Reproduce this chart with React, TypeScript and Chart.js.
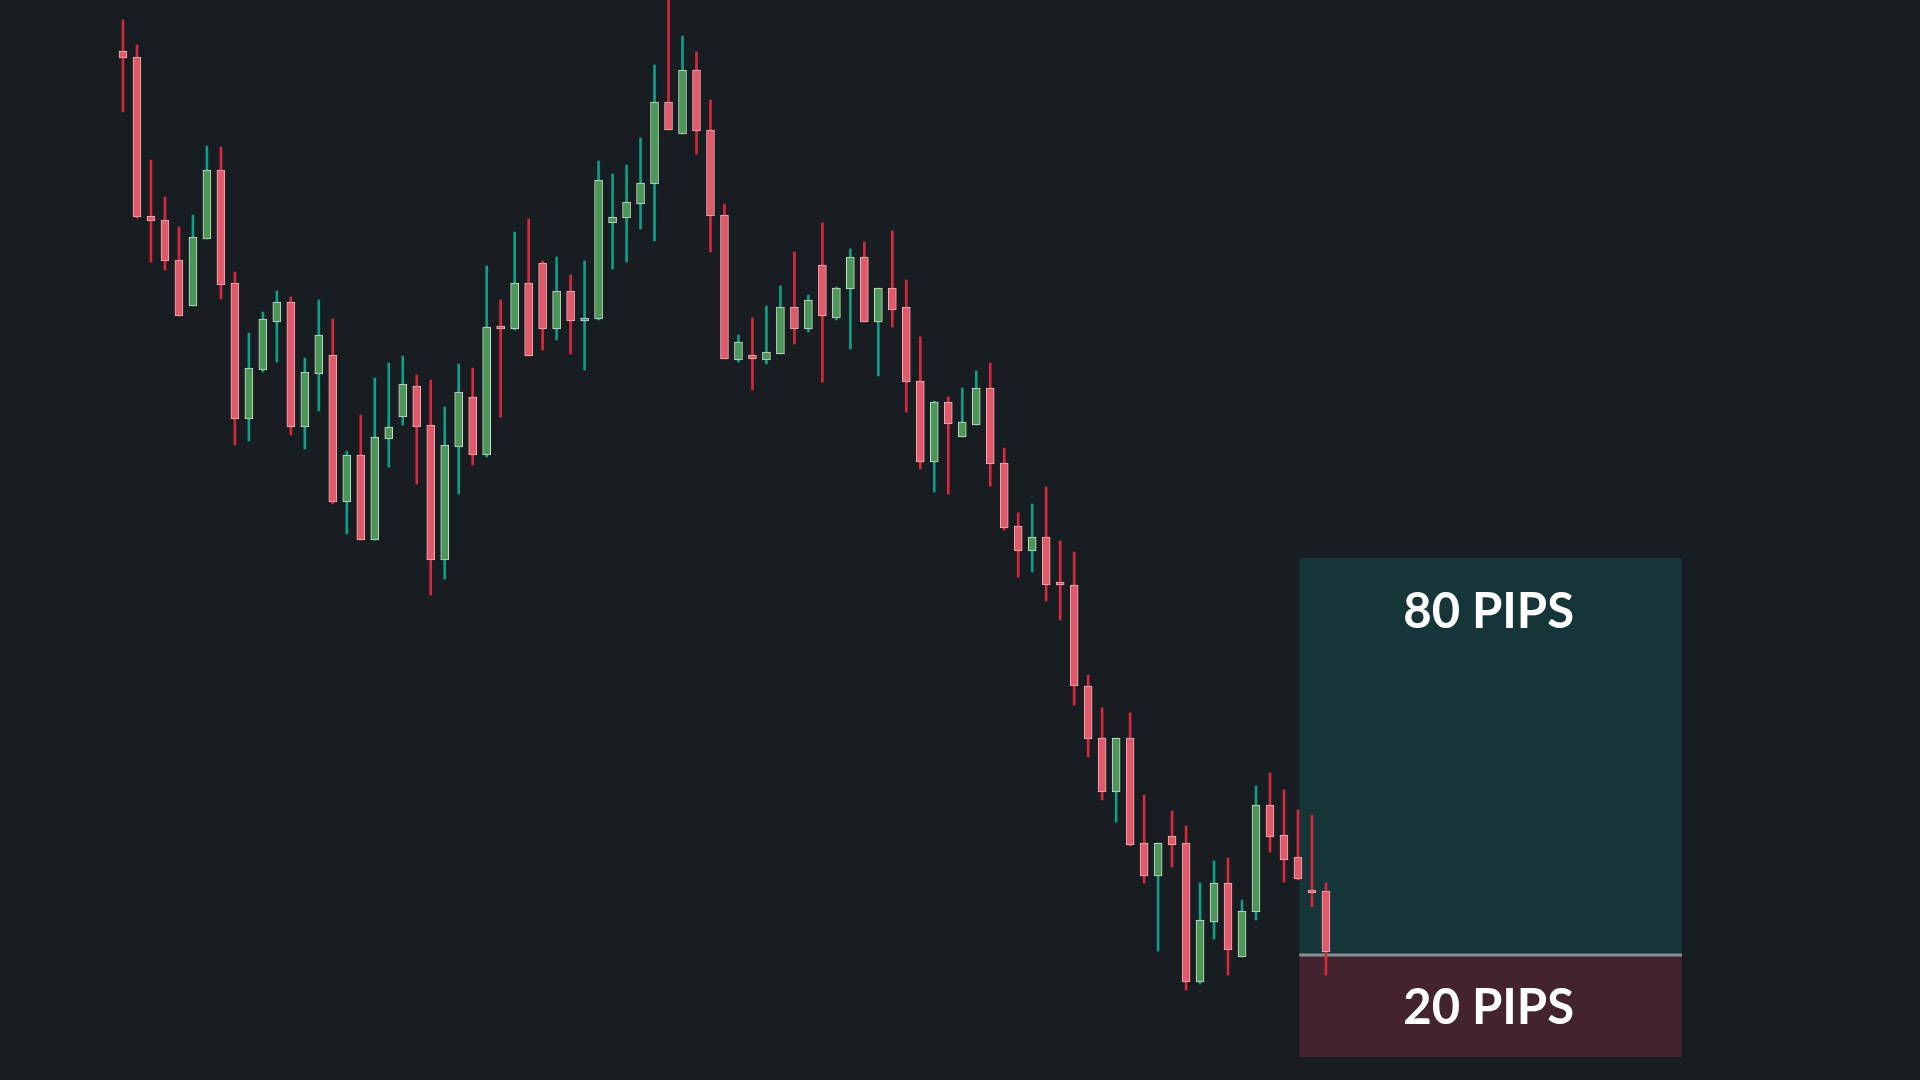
import React, { useEffect, useRef } from "react";
import { Chart, registerables } from "chart.js";

Chart.register(...registerables);

// OHLC prices, one entry per candle (left to right)
const OPENS = [
  1.09898, 1.09886, 1.09568, 1.0956, 1.0948, 1.09388, 1.09522, 1.0966, 1.09434, 1.09162,
  1.0926, 1.09356, 1.09396, 1.09146, 1.09252, 1.0929, 1.08996, 1.0909, 1.0892, 1.09122,
  1.09166, 1.09228, 1.0915, 1.0888, 1.09106, 1.09206, 1.0909, 1.09346, 1.09342, 1.09434,
  1.09474, 1.09342, 1.09418, 1.09358, 1.09362, 1.09554, 1.09564, 1.09592, 1.09632, 1.09796,
  1.09732, 1.0986, 1.0974, 1.0957, 1.0928, 1.0929, 1.0928, 1.09292, 1.09386, 1.09342,
  1.0947, 1.09364, 1.09422, 1.09486, 1.09356, 1.09424, 1.09386, 1.09238, 1.09076, 1.09196,
  1.09126, 1.0915, 1.09224, 1.09074, 1.08948, 1.08898, 1.08926, 1.08834, 1.0883, 1.08628,
  1.08524, 1.08416, 1.08524, 1.08314, 1.08248, 1.08328, 1.08314, 1.08036, 1.08156, 1.08234,
  1.08086, 1.08176, 1.0839, 1.0833, 1.08286, 1.08218, 1.08218,
];
const HIGHS = [
  1.0996, 1.0991, 1.0968, 1.09606, 1.09546, 1.0957, 1.09708, 1.09706, 1.09456, 1.09334,
  1.09376, 1.09418, 1.09406, 1.09284, 1.094, 1.09362, 1.09098, 1.0917, 1.09244, 1.09274,
  1.09288, 1.0925, 1.0924, 1.09186, 1.09272, 1.09264, 1.09468, 1.094, 1.09536, 1.09562,
  1.09478, 1.09486, 1.0945, 1.09478, 1.09678, 1.09652, 1.0967, 1.09724, 1.0987, 1.1002,
  1.09928, 1.09896, 1.098, 1.09592, 1.0933, 1.09364, 1.09388, 1.09428, 1.09496, 1.0941,
  1.09554, 1.09426, 1.09502, 1.09516, 1.09424, 1.09538, 1.0944, 1.09326, 1.09198, 1.09206,
  1.09224, 1.09258, 1.09274, 1.09104, 1.08974, 1.08992, 1.09026, 1.08918, 1.08896, 1.0865,
  1.08584, 1.08524, 1.08574, 1.0841, 1.08314, 1.08378, 1.08348, 1.08234, 1.08278, 1.08284,
  1.082, 1.08428, 1.08454, 1.0842, 1.0838, 1.0837, 1.08234,
];
const LOWS = [
  1.09776, 1.09564, 1.09476, 1.0946, 1.09368, 1.09388, 1.09522, 1.09402, 1.0911, 1.09118,
  1.09256, 1.09276, 1.0913, 1.09102, 1.09178, 1.08992, 1.08932, 1.0892, 1.0892, 1.09066,
  1.0915, 1.09032, 1.0881, 1.08842, 1.09012, 1.0907, 1.09086, 1.09166, 1.0934, 1.09288,
  1.093, 1.0932, 1.09292, 1.0926, 1.0936, 1.09462, 1.09476, 1.09542, 1.09518, 1.0974,
  1.09732, 1.09692, 1.09496, 1.09282, 1.09276, 1.0922, 1.09272, 1.09292, 1.09312, 1.09336,
  1.09236, 1.0936, 1.09302, 1.09356, 1.09248, 1.09346, 1.09176, 1.09062, 1.09016, 1.09012,
  1.09126, 1.0915, 1.09028, 1.0894, 1.08846, 1.08856, 1.08798, 1.0876, 1.0859, 1.08486,
  1.084, 1.08356, 1.08308, 1.08234, 1.08098, 1.08266, 1.0802, 1.08032, 1.08122, 1.0805,
  1.08086, 1.0816, 1.08296, 1.08236, 1.0824, 1.08186, 1.0805,
];
const CLOSES = [
  1.09884, 1.09566, 1.09558, 1.09478, 1.09368, 1.09526, 1.0966, 1.0943, 1.09162, 1.09264,
  1.09362, 1.09396, 1.09146, 1.09256, 1.0933, 1.08996, 1.0909, 1.0892, 1.09126, 1.09146,
  1.09232, 1.09146, 1.0888, 1.0911, 1.09216, 1.0909, 1.09346, 1.09342, 1.09434, 1.09288,
  1.09342, 1.09418, 1.09358, 1.09364, 1.0964, 1.09566, 1.09596, 1.09634, 1.09796, 1.0974,
  1.0986, 1.09738, 1.09568, 1.09282, 1.09316, 1.09282, 1.09296, 1.09386, 1.09342, 1.094,
  1.09368, 1.09424, 1.09486, 1.09356, 1.09424, 1.0938, 1.09236, 1.09076, 1.09196, 1.09152,
  1.09156, 1.09224, 1.09072, 1.08944, 1.08898, 1.08926, 1.0883, 1.0883, 1.08628, 1.08522,
  1.08416, 1.08524, 1.0831, 1.08248, 1.08314, 1.0831, 1.08036, 1.0816, 1.08234, 1.081,
  1.08178, 1.0839, 1.08326, 1.0828, 1.08242, 1.08214, 1.08096,
];

// Trade setup (risk/reward box)
const ENTRY = 1.0809;
const TAKE_PROFIT = 1.08884;
const STOP_LOSS = 1.07886;
const BOX_START_BAR = 84.1;
const BOX_END_BAR = 111.45;
const TP_LABEL = "80 PIPS";
const SL_LABEL = "20 PIPS";

const BG = "#171d20";
const RED_FILL = "#e05a6c";
const RED_BORDER = "#eeb0b6";
const RED_WICK = "#d6283e";
const GREEN_FILL = "#4a9757";
const GREEN_BORDER = "#d2dad2";
const GREEN_WICK = "#0f9e87";

export default function App() {
  const ref = useRef<HTMLCanvasElement | null>(null);

  useEffect(() => {
    if (!ref.current) return;
    const up = OPENS.map((o, i) => CLOSES[i] >= o);
    const bodies = OPENS.map((o, i) => ({ x: i, y: [o, CLOSES[i]] }));
    const wicks = LOWS.map((l, i) => ({ x: i, y: [l, HIGHS[i]] }));

    const boxPlugin = {
      id: "rrbox",
      beforeDatasetsDraw(chart: any) {
        const { ctx, scales } = chart;
        const x0 = scales.x.getPixelForValue(BOX_START_BAR);
        const x1 = scales.x.getPixelForValue(BOX_END_BAR);
        const yTp = scales.y.getPixelForValue(TAKE_PROFIT);
        const yEn = scales.y.getPixelForValue(ENTRY);
        const ySl = scales.y.getPixelForValue(STOP_LOSS);
        ctx.save();
        ctx.fillStyle = "#163538";
        ctx.fillRect(x0, yTp, x1 - x0, yEn - yTp);
        ctx.fillStyle = "#43232d";
        ctx.fillRect(x0, yEn, x1 - x0, ySl - yEn);
        ctx.strokeStyle = "#8a9195";
        ctx.lineWidth = 3;
        ctx.beginPath();
        ctx.moveTo(x0, yEn);
        ctx.lineTo(x1, yEn);
        ctx.stroke();
        ctx.restore();
      },
      afterDatasetsDraw(chart: any) {
        const { ctx, scales } = chart;
        const x0 = scales.x.getPixelForValue(BOX_START_BAR);
        const x1 = scales.x.getPixelForValue(BOX_END_BAR);
        const yTp = scales.y.getPixelForValue(TAKE_PROFIT);
        const yEn = scales.y.getPixelForValue(ENTRY);
        const ySl = scales.y.getPixelForValue(STOP_LOSS);
        const cx = (x0 + x1) / 2 - 2;
        ctx.save();
        ctx.fillStyle = "#ffffff";
        ctx.font = "bold 49px Lato";
        ctx.textAlign = "center";
        ctx.textBaseline = "middle";
        ctx.fillText(TP_LABEL, cx, yTp + 54);
        ctx.fillText(SL_LABEL, cx, (yEn + ySl) / 2 + 2);
        ctx.restore();
      },
    };

    const chart = new Chart(ref.current, {
      type: "bar",
      data: {
        datasets: [
          {
            label: "body",
            data: bodies as any,
            backgroundColor: up.map((u) => (u ? GREEN_FILL : RED_FILL)),
            borderColor: up.map((u) => (u ? GREEN_BORDER : RED_BORDER)),
            borderWidth: 1,
            borderSkipped: false,
            barThickness: 8,
            minBarLength: 3,
            grouped: false,
            order: 0,
          } as any,
          {
            label: "wick",
            data: wicks as any,
            backgroundColor: up.map((u) => (u ? GREEN_WICK : RED_WICK)),
            borderWidth: 0,
            barThickness: 2,
            grouped: false,
            order: 1,
          } as any,
        ],
      },
      options: {
        animation: false,
        responsive: false,
        devicePixelRatio: 1,
        layout: { padding: 0 },
        plugins: { legend: { display: false }, tooltip: { enabled: false } },
        scales: {
          x: {
            type: "linear",
            display: false,
            offset: false,
            min: -8.793,
            max: 128.47,
          },
          y: {
            type: "linear",
            display: false,
            min: 1.0784,
            max: 1.1,
          },
        },
      },
      plugins: [boxPlugin],
    });
    return () => chart.destroy();
  }, []);

  return (
    <div
      style={{
        position: "fixed",
        left: 0,
        top: 0,
        width: 1920,
        height: 1080,
        background: BG,
      }}
    >
      <canvas ref={ref} width={1920} height={1080} style={{ display: "block" }} />
    </div>
  );
}
